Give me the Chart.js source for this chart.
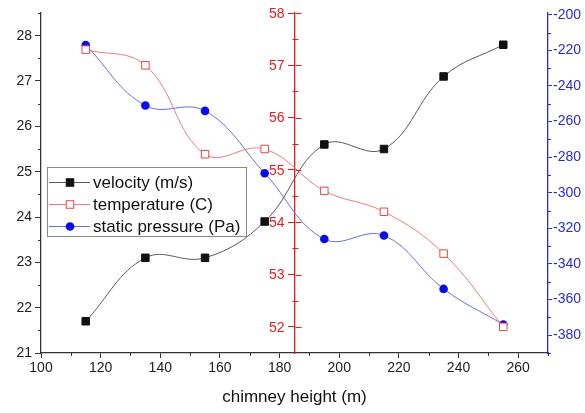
<!DOCTYPE html>
<html><head><meta charset="utf-8">
<script src="https://cdn.jsdelivr.net/npm/chart.js@4"></script>
<style>html,body{margin:0;padding:0;background:#fff}</style>
</head><body>
<canvas id="c" width="585" height="413" style="width:585px;height:413px;display:block"></canvas>
<script>
// ---- data ----
const heights = [115, 135, 155, 175, 195, 215, 235, 255];
const velocity = [21.7, 23.1, 23.1, 23.9, 25.6, 25.5, 27.1, 27.8];
const temperature = [57.3, 57.0, 55.3, 55.4, 54.6, 54.2, 53.4, 52.0];
const pressure = [-217, -251, -254, -289, -326, -324, -354, -374];
const seriesLabels = ['velocity (m/s)', 'temperature (C)', 'static pressure (Pa)'];
const xTitle = 'chimney height (m)';

const F = "'Liberation Sans', Arial, Helvetica, sans-serif";
const pts = arr => heights.map((h, i) => ({x: h, y: arr[i]}));

const COLORS = {
  vel: '#111111', velLine: '#5a5a5a',
  tem: '#e8474a', temLine: '#f07c7c',
  pre: '#0a0ae6', preLine: '#6b6be8',
  redAxis: '#e81c1c', blueAxis: '#2b2bd0', dark: '#333333'
};

const axisDecor = {
  id: 'axisDecor',
  afterDraw(chart) {
    const ctx = chart.ctx;
    const {x, y, y1, y2} = chart.scales;
    const ca = chart.chartArea;
    ctx.save();
    ctx.lineWidth = 1;
    // x minor ticks
    ctx.strokeStyle = COLORS.dark;
    for (let v = 110; v <= 270; v += 20) {
      const px = Math.round(x.getPixelForValue(v)) + 0.5;
      ctx.beginPath(); ctx.moveTo(px, ca.bottom); ctx.lineTo(px, ca.bottom + 3); ctx.stroke();
    }
    // left minor ticks
    for (let v = 21.5; v <= 28.5; v += 1) {
      const py = Math.round(y.getPixelForValue(v)) + 0.5;
      ctx.beginPath(); ctx.moveTo(ca.left, py); ctx.lineTo(ca.left - 3, py); ctx.stroke();
    }
    // red axis: right half of major ticks + crossing minor ticks + labels
    ctx.strokeStyle = COLORS.redAxis;
    const rx = Math.round(x.getPixelForValue(185)) + 0.5;
    y1.ticks.forEach(t => {
      const py = Math.round(y1.getPixelForValue(t.value)) + 0.5;
      ctx.beginPath(); ctx.moveTo(rx, py); ctx.lineTo(rx + 6, py); ctx.stroke();
    });
    for (let v = 52.5; v <= 57.5; v += 1) {
      const py = Math.round(y1.getPixelForValue(v)) + 0.5;
      ctx.beginPath(); ctx.moveTo(rx - 3, py); ctx.lineTo(rx + 3, py); ctx.stroke();
    }
    ctx.fillStyle = COLORS.redAxis;
    ctx.font = '14px ' + F;
    ctx.textAlign = 'right';
    ctx.textBaseline = 'middle';
    y1.ticks.forEach(t => {
      const py = y1.getPixelForValue(t.value);
      ctx.fillText(t.label, rx - 11, py + 1);
    });
    // right minor ticks
    ctx.strokeStyle = COLORS.blueAxis;
    for (let v = -390; v <= -210; v += 20) {
      const py = Math.round(y2.getPixelForValue(v)) + 0.5;
      ctx.beginPath(); ctx.moveTo(ca.right, py); ctx.lineTo(ca.right + 3, py); ctx.stroke();
    }
    ctx.restore();

    // legend
    const bx = 47, by = 167, bw = 199, bh = 69;
    ctx.save();
    ctx.fillStyle = '#ffffff';
    ctx.fillRect(bx, by, bw, bh);
    ctx.strokeStyle = '#8a8a8a';
    ctx.lineWidth = 1;
    ctx.strokeRect(bx + 0.5, by + 0.5, bw, bh);
    ctx.font = '17px ' + F;
    ctx.textBaseline = 'middle';
    ctx.textAlign = 'left';
    chart.data.datasets.forEach((ds, i) => {
      const cy = by + 15 + i * 22;
      ctx.strokeStyle = ds.borderColor;
      ctx.lineWidth = 1;
      ctx.beginPath(); ctx.moveTo(bx + 2, cy + 0.5); ctx.lineTo(bx + 43, cy + 0.5); ctx.stroke();
      const mx = bx + 23;
      if (ds.pointStyle === 'circle') {
        ctx.fillStyle = ds.pointBackgroundColor;
        ctx.beginPath(); ctx.arc(mx, cy + 0.5, ds.pointRadius, 0, Math.PI * 2); ctx.fill();
      } else {
        const s = ds.pointRadius * Math.SQRT1_2;
        ctx.fillStyle = ds.pointBackgroundColor;
        ctx.fillRect(mx - s, cy + 0.5 - s, 2 * s, 2 * s);
        ctx.strokeStyle = ds.pointBorderColor;
        ctx.strokeRect(mx - s, cy + 0.5 - s, 2 * s, 2 * s);
      }
      ctx.fillStyle = '#111';
      ctx.fillText(ds.label, bx + 46, cy + 1);
    });
    ctx.restore();
  }
};

const keepSteps = (step) => (scale) => {
  scale.ticks = scale.ticks.filter(t => Math.abs(t.value / step - Math.round(t.value / step)) < 1e-6);
};

new Chart(document.getElementById('c'), {
  type: 'line',
  data: {
    datasets: [
      {label: seriesLabels[0], data: pts(velocity), yAxisID: 'y',
       borderColor: COLORS.velLine, borderWidth: 1, tension: 0.4,
       pointStyle: 'rect', pointRadius: 5.3, pointBackgroundColor: COLORS.vel, pointBorderColor: COLORS.vel, pointBorderWidth: 1},
      {label: seriesLabels[1], data: pts(temperature), yAxisID: 'y1',
       borderColor: COLORS.temLine, borderWidth: 1, tension: 0.4,
       pointStyle: 'rect', pointRadius: 5.3, pointBackgroundColor: '#ffffff', pointBorderColor: COLORS.tem, pointBorderWidth: 1},
      {label: seriesLabels[2], data: pts(pressure), yAxisID: 'y2',
       borderColor: COLORS.preLine, borderWidth: 1, tension: 0.4,
       pointStyle: 'circle', pointRadius: 4.3, pointBackgroundColor: COLORS.pre, pointBorderColor: COLORS.pre, pointBorderWidth: 0}
    ]
  },
  options: {
    responsive: false, animation: false, devicePixelRatio: 1,
    layout: {padding: {top: 13, left: 0, right: 0, bottom: 0}},
    plugins: {legend: {display: false}, tooltip: {enabled: false}},
    scales: {
      x: {type: 'linear', position: 'bottom', min: 100, max: 270,
          ticks: {stepSize: 20, includeBounds: false, color: '#222', font: {size: 14, family: F}, padding: 2, maxRotation: 0, autoSkip: false},
          afterBuildTicks: keepSteps(20),
          grid: {drawOnChartArea: false, tickLength: 5, color: COLORS.dark},
          border: {color: COLORS.dark, width: 1.3},
          title: {display: true, text: xTitle, color: '#111', font: {size: 17, family: F}, padding: {top: 5, bottom: 5}},
          afterFit(s) { s.height = 60; }},
      y: {type: 'linear', position: 'left', min: 21, max: 28.5,
          ticks: {stepSize: 1, includeBounds: false, color: '#222', font: {size: 14, family: F}, padding: 3, autoSkip: false},
          afterBuildTicks: keepSteps(1),
          grid: {drawOnChartArea: false, tickLength: 6, color: COLORS.dark},
          border: {color: COLORS.dark, width: 1.3},
          afterFit(s) { s.width = 41; }},
      y1: {type: 'linear', position: {x: 185}, min: 51.5, max: 58,
          ticks: {stepSize: 1, includeBounds: false, display: false, autoSkip: false},
          afterBuildTicks: keepSteps(1),
          grid: {drawOnChartArea: false, tickLength: 6, color: COLORS.redAxis},
          border: {color: COLORS.redAxis, width: 1.3}},
      y2: {type: 'linear', position: 'right', min: -390, max: -199,
          ticks: {stepSize: 20, includeBounds: false, color: COLORS.blueAxis, font: {size: 14, family: F}, padding: 1, autoSkip: false},
          afterBuildTicks: keepSteps(20),
          grid: {drawOnChartArea: false, tickLength: 4, color: COLORS.blueAxis},
          border: {color: COLORS.blueAxis, width: 1.3},
          afterFit(s) { s.width = 37; }}
    }
  },
  plugins: [axisDecor]
});
</script>
</body></html>
